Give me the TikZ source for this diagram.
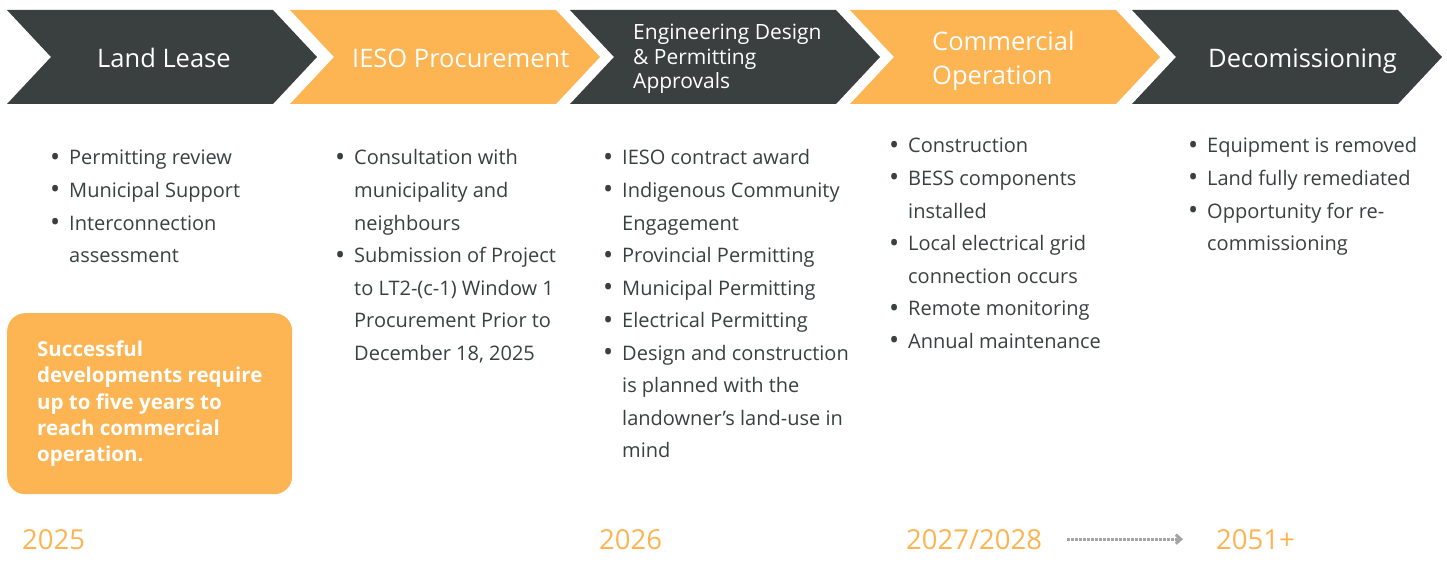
\documentclass[tikz,border=0pt]{standalone}
\usepackage{fontspec}
\setmainfont{Open Sans}
\usepackage{graphicx}
\usepackage{xcolor}
\definecolor{Charcoal}{RGB}{58,63,63}
\definecolor{Mango}{RGB}{253,180,82}
\definecolor{DotGray}{RGB}{165,165,165}
\usetikzlibrary{positioning,arrows.meta}
\newcommand{\bdot}{\raisebox{-1.5bp}{\scalebox{1.35}{\textbullet}}}

\begin{document}
\begin{tikzpicture}[x=1bp, y=-1bp,
    ttl/.style={anchor=west, inner sep=0, text=white, align=left, font=\fontsize{25.5bp}{34bp}\selectfont},
    bl/.style={anchor=base west, inner sep=0, text=Charcoal, font=\fontsize{20bp}{32.5bp}\selectfont},
    nb/.style={rectangle, fill=Mango, rounded corners=18bp, minimum width=285bp, minimum height=181bp, anchor=north west},
    nt/.style={anchor=west, inner sep=0, text=white, align=left, font=\fontsize{20.5bp}{26.25bp}\selectfont\bfseries},
    yr/.style={anchor=base west, inner sep=0, text=Mango, font=\fontsize{27.5bp}{28bp}\selectfont},
    a/.style={-{Straight Barb[length=5bp,width=9bp]}, DotGray, line width=3bp, dash pattern=on 2.5bp off 1.5bp}
]
    \useasboundingbox (0,0) rectangle (1447,570);
    % chevrons
    \foreach \x/\c in {7/Charcoal, 290/Mango, 570/Charcoal, 850/Mango, 1132/Charcoal}
        \fill[\c] (\x,10) -- ++(266,0) -- ++(44,47) -- ++(-44,47) -- ++(-266,0) -- ++(44,-47) -- cycle;
    \node[ttl] (t1) at (97,58) {Land Lease};
    \node[ttl] (t2) at (352,58) {IESO Procurement};
    \node[ttl, font=\fontsize{21bp}{24.5bp}\selectfont] (t3) at (633,59) {Engineering Design\\ \& Permitting\\ Approvals};
    \node[ttl] (t4) at (932,61) {Commercial\\ Operation};
    \node[ttl] (t5) at (1208,61) {Decomissioning};
    % bullet lists
    \node[bl] (l1) at (50,165) {\begin{tabular}[t]{@{}p{19bp}@{}l@{}}
        \bdot & Permitting review\\
        \bdot & Municipal Support\\
        \bdot & Interconnection\\
              & assessment
    \end{tabular}};
    \node[bl] (l2) at (335,165) {\begin{tabular}[t]{@{}p{19bp}@{}l@{}}
        \bdot & Consultation with\\
              & municipality and\\
              & neighbours\\
        \bdot & Submission of Project\\
              & to LT2-(c-1) Window 1\\
              & Procurement Prior to\\
              & December 18, 2025
    \end{tabular}};
    \node[bl] (l3) at (603,165) {\begin{tabular}[t]{@{}p{19bp}@{}l@{}}
        \bdot & IESO contract award\\
        \bdot & Indigenous Community\\
              & Engagement\\
        \bdot & Provincial Permitting\\
        \bdot & Municipal Permitting\\
        \bdot & Electrical Permitting\\
        \bdot & Design and construction\\
              & is planned with the\\
              & landowner’s land-use in\\
              & mind
    \end{tabular}};
    \node[bl] (l4) at (889,153) {\begin{tabular}[t]{@{}p{19bp}@{}l@{}}
        \bdot & Construction\\
        \bdot & BESS components\\
              & installed\\
        \bdot & Local electrical grid\\
              & connection occurs\\
        \bdot & Remote monitoring\\
        \bdot & Annual maintenance
    \end{tabular}};
    \node[bl] (l5) at (1188,153) {\begin{tabular}[t]{@{}p{19bp}@{}l@{}}
        \bdot & Equipment is removed\\
        \bdot & Land fully remediated\\
        \bdot & Opportunity for re-\\
              & commissioning
    \end{tabular}};
    % note box
    \node[nb] (note) at (7,313) {};
    \node[nt] (notetxt) at ([xshift=30bp]note.west) {Successful\\ developments require\\ up to five years to\\ reach commercial\\ operation.};
    % years
    \node[yr] (y2025) at (22,549) {2025};
    \node[yr] (y2026) at (599,549) {2026};
    \node[yr] (y2027) at (906,549) {2027/2028};
    \node[yr] (y2051) at (1216,549) {2051+};
    \draw[a] ([xshift=25bp]y2027.east) -- ([xshift=-33bp]y2051.west);
\end{tikzpicture}
\end{document}
